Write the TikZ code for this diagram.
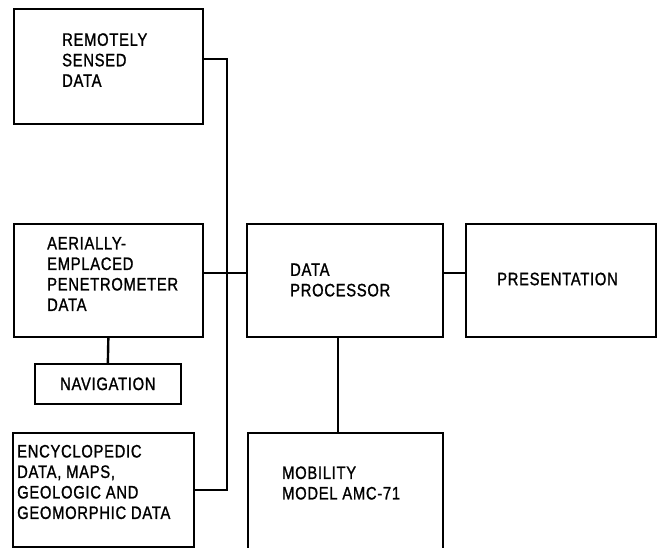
\documentclass[tikz,border=0pt]{standalone}
\usepackage{fontspec}
\setmainfont[FakeStretch=0.82, FakeBold=1.2, LetterSpace=4]{Liberation Sans}
\usetikzlibrary{positioning}

\tikzset{
  block/.style={draw, line width=1.7pt, anchor=north west, inner sep=0pt},
  caption/.style={font=\fontsize{18}{20.5}\selectfont, align=left, inner sep=0pt, anchor=west},
  wire/.style={line width=2.4pt}
}

\begin{document}
\begin{tikzpicture}[x=1pt, y=-1pt]
    \useasboundingbox (0,0) rectangle (658,548);
    \clip (0,0) rectangle (658,548);
    % input side
    \node [block, minimum width=189pt, minimum height=115pt] (sensed) at (13,8) {};
    \node [block, minimum width=189pt, minimum height=113pt] (aerial) at (13,223) {};
    \node [block, minimum width=146pt, minimum height=40pt] (nav) at (34,363) {};
    \node [block, minimum width=181pt, minimum height=114pt] (ency) at (12,432) {};
    % processing and output
    \node [block, minimum width=196pt, minimum height=113pt] (proc) at (246,223) {};
    \node [block, minimum width=190pt, minimum height=113pt] (pres) at (465,223) {};
    \node [block, minimum width=195pt, minimum height=130pt] (mob) at (247,432) {};
    % texts
    \node [caption] (sensed-txt) at (62,60) {REMOTELY\\SENSED\\DATA};
    \node [caption] (aerial-txt) at (47,274) {AERIALLY-\\EMPLACED\\PENETROMETER\\DATA};
    \node [caption, anchor=center] (nav-txt) at (nav.center) {NAVIGATION};
    \node [caption] (ency-txt) at (17,482) {ENCYCLOPEDIC\\DATA, MAPS,\\GEOLOGIC AND\\GEOMORPHIC DATA};
    \node [caption] (proc-txt) at (290,280) {DATA\\PROCESSOR};
    \node [caption] (pres-txt) at (497,279) {PRESENTATION};
    \node [caption] (mob-txt) at (282,483) {MOBILITY\\MODEL AMC-71};
    % bus and links
    \coordinate (bustop) at (227,59);
    \coordinate (busmid) at (227,273);
    \coordinate (busbot) at (227,490);
    \draw [wire] (bustop -| sensed.east) -- (bustop) -- (busbot) -- (busbot -| ency.east);
    \draw [wire] (busmid -| aerial.east) -- (busmid -| proc.west);
    \draw [wire] (busmid -| proc.east) -- (busmid -| pres.west);
    \draw [wire] (aerial.south) -- (nav.north);
    \draw [wire] ([xshift=-7pt]proc.south) -- ([xshift=-7pt]proc.south |- mob.north);
\end{tikzpicture}
\end{document}
